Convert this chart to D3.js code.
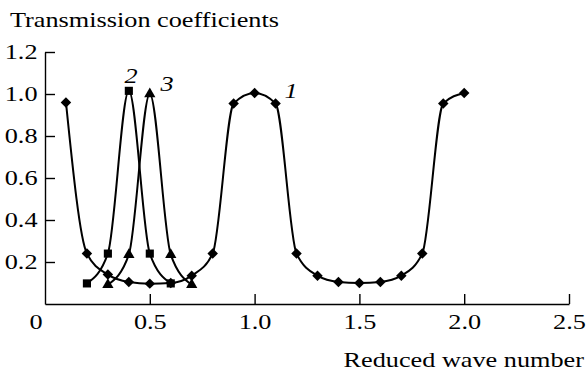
<!DOCTYPE html>
<html>
<head>
<meta charset="utf-8">
<script src="https://cdn.jsdelivr.net/npm/d3@7"></script>
<style>
  body { margin: 0; background: #fff; }
  svg { display: block; font-family: "Liberation Serif", "DejaVu Serif", serif; }
</style>
</head>
<body>
<svg width="587" height="373"></svg>
<script>
// curve 1 (diamonds), 2 (squares), 3 (triangles)
var k1 = [0.1, 0.2, 0.3, 0.4, 0.5, 0.6, 0.7, 0.8, 0.9, 1.0, 1.1, 1.2, 1.3, 1.4, 1.5, 1.6, 1.7, 1.8, 1.9, 2.0];
var t1 = [0.96, 0.24, 0.14, 0.105, 0.097, 0.10, 0.135, 0.24, 0.955, 1.005, 0.955, 0.24, 0.135, 0.105, 0.10, 0.105, 0.135, 0.24, 0.955, 1.005];
var k2 = [0.2, 0.3, 0.4, 0.5, 0.6];
var t2 = [0.098, 0.24, 1.015, 0.24, 0.098];
var k3 = [0.3, 0.4, 0.5, 0.6, 0.7];
var t3 = [0.092, 0.235, 1.0, 0.235, 0.092];

var xTicks = [0.5, 1.0, 1.5, 2.0, 2.5];
var yTicks = [0.2, 0.4, 0.6, 0.8, 1.0, 1.2];

var width = 587;
var height = 373;
var sx = 1.25; // the original lettering is a bit wide

var svg = d3.select("svg");

var xScale = d3.scaleLinear().domain([0, 2.5]).range([45, 569]);
var yScale = d3.scaleLinear().domain([0, 1.2]).range([304, 52]);

var xAxis = d3.axisBottom(xScale)
    .tickValues(xTicks)
    .tickFormat(d3.format(".1f"))
    .tickSizeInner(-10)
    .tickSizeOuter(0)
    .tickPadding(10);
var yAxis = d3.axisLeft(yScale)
    .tickValues(yTicks)
    .tickFormat(d3.format(".1f"))
    .tickSizeInner(-10)
    .tickSizeOuter(0)
    .tickPadding(6);

var gx = svg.append("g")
    .attr("transform", "translate(0," + yScale(0) + ")")
    .call(xAxis);
var gy = svg.append("g")
    .attr("transform", "translate(" + xScale(0) + ",0)")
    .call(yAxis);

[gx, gy].forEach(function(g) {
  g.select(".domain").attr("stroke", "#000").attr("stroke-width", 1.4);
  g.selectAll(".tick line").attr("stroke", "#000").attr("stroke-width", 1.4);
  g.selectAll(".tick text")
      .attr("fill", "#000")
      .style("font-family", "Liberation Serif")
      .style("font-size", "21px")
      .attr("transform", "scale(" + sx + ",1)");
});

function label(x, y, txt, anchor, italic) {
  svg.append("text")
      .attr("transform", "translate(" + x + "," + y + ") scale(" + sx + ",1)")
      .attr("text-anchor", anchor)
      .style("font-size", "21px")
      .style("font-style", italic ? "italic" : "normal")
      .text(txt);
}

label(36, 329, "0", "middle");
label(10, 27, "Transmission coefficients", "start");
label(584, 367, "Reduced wave number", "end");
label(131, 83, "2", "middle", true);
label(167, 91, "3", "middle", true);
label(291, 98, "1", "middle", true);

var line = d3.line()
    .x(d => xScale(d[0]))
    .y(d => yScale(d[1]))
    .curve(d3.curveMonotoneX);

var series = [
  { k: k1, t: t1, sym: d3.symbolSquare, size: 55, rot: 45 },
  { k: k2, t: t2, sym: d3.symbolSquare, size: 66, rot: 0 },
  { k: k3, t: t3, sym: d3.symbolTriangle, size: 55, rot: 0 }
];

series.forEach(function(s) {
  var pts = s.k.map((k, i) => [k, s.t[i]]);
  svg.append("path")
      .datum(pts)
      .attr("fill", "none")
      .attr("stroke", "#000")
      .attr("stroke-width", 2)
      .attr("d", line);
});

series.forEach(function(s) {
  var pts = s.k.map((k, i) => [k, s.t[i]]);
  svg.append("g")
    .selectAll("path")
    .data(pts)
    .enter()
    .append("path")
      .attr("transform", d => "translate(" + xScale(d[0]) + "," + yScale(d[1]) + ") rotate(" + s.rot + ")")
      .attr("d", d3.symbol().type(s.sym).size(s.size))
      .attr("fill", "#000");
});
</script>
</body>
</html>
